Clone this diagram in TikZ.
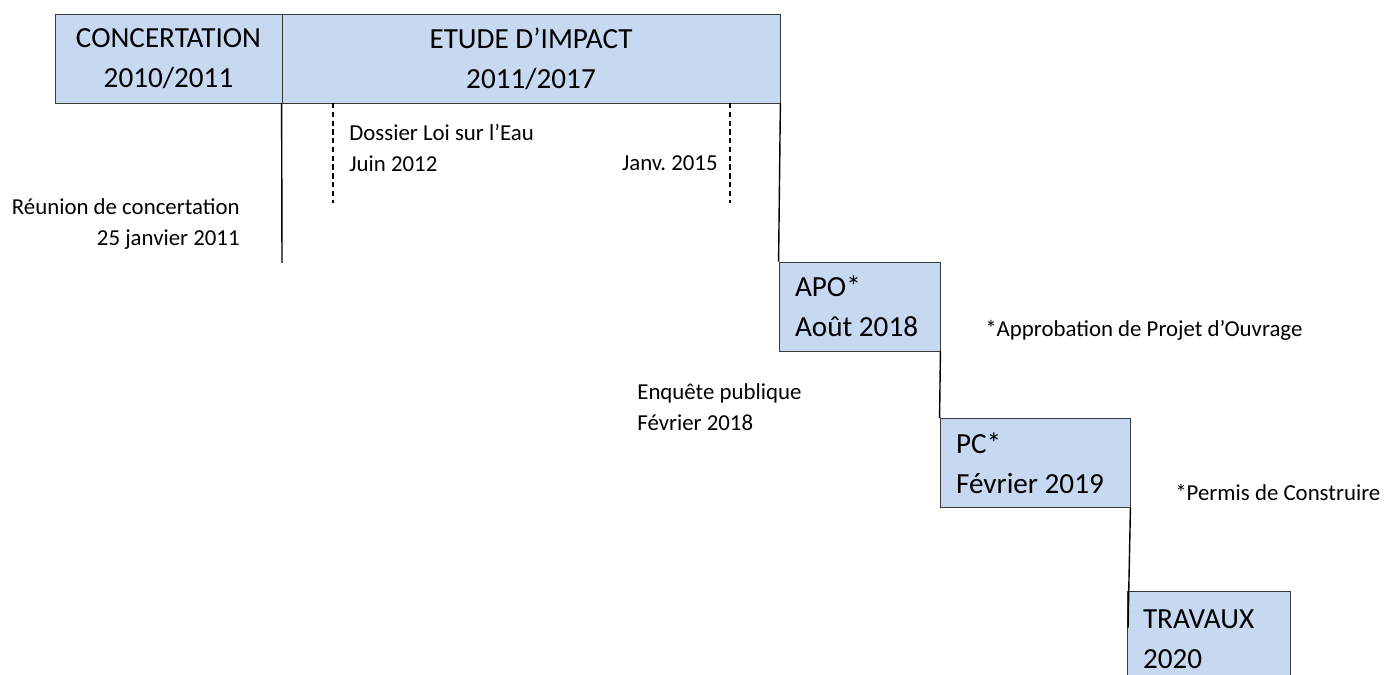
\documentclass[tikz,border=0pt]{standalone}
\usepackage{fontspec}
\setmainfont{Carlito}
\definecolor{boxblue}{HTML}{C6D9F1}
\definecolor{boxline}{HTML}{3A3A3A}
\frenchspacing
\begin{document}
\begin{tikzpicture}[x=0.02cm, y=-0.02cm, inner sep=0mm,
		boxstyle/.style={draw=boxline, fill=boxblue, line width=0.5pt, minimum height=1.78cm, font=\fontsize{16.6}{22.6}\selectfont},
		leftbox/.style={boxstyle, align=flush left, inner xsep=0.32cm},
		textstyle/.style={font=\fontsize{13}{18}\selectfont},
		edgestyle/.style={line width=0.8pt},
		dashstyle/.style={line width=0.8pt, dash pattern=on 3pt off 2pt}]
		\useasboundingbox (0,0) rectangle (1385,675);

		% phases du haut
		\node [boxstyle, minimum width=4.54cm, align=flush center] (concert) at (168.5,58.5) {CONCERTATION\\2010/2011};
		\node [boxstyle, minimum width=9.96cm, align=flush center] (etude) at (531,58.5) {ETUDE D’IMPACT\\2011/2017};

		% etapes en escalier
		\node [leftbox, text width=2.58cm] (apo) at (859.5,306.5) {APO*\\Août 2018};
		\node [leftbox, text width=3.16cm] (pc) at (1035,463) {PC*\\Février 2019};
		\node [leftbox, text width=2.62cm, minimum height=1.9cm] (travaux) at (1208.5,639) {TRAVAUX\\2020};

		% textes
		\node [textstyle, anchor=east, align=flush right] (reunion) at (240,224) {Réunion de concertation\\25 janvier 2011};
		\node [textstyle, anchor=west, align=flush left] (eau) at (349,148) {Dossier Loi sur l’Eau\\Juin 2012};
		\node [textstyle, anchor=east] (janv) at (718,163) {Janv. 2015};
		\node [textstyle, anchor=west, align=flush left] (enquete) at (637,407) {Enquête publique\\Février 2018};
		\node [textstyle, anchor=west] (apodef) at (985,330) {*Approbation de Projet d’Ouvrage};
		\node [textstyle, anchor=west] (pcdef) at (1175,492) {*Permis de Construire};

		% extremites libres
		\coordinate (reunionend) at (282,263);
		\coordinate (eaustart) at (333,103);
		\coordinate (eauend) at (333,203);
		\coordinate (janvstart) at (730,103);
		\coordinate (janvend) at (730,203);
		\coordinate (travauxend) at (1128,628);

		\draw [edgestyle] (etude.south west) -- (reunionend);
		\draw [edgestyle] (etude.south east) -- (apo.north west);
		\draw [edgestyle] (apo.south east) -- (pc.north west);
		\draw [edgestyle] (pc.south east) -- (travauxend);
		\draw [dashstyle] (eaustart) -- (eauend);
		\draw [dashstyle] (janvstart) -- (janvend);
		\end{tikzpicture}
\end{document}
